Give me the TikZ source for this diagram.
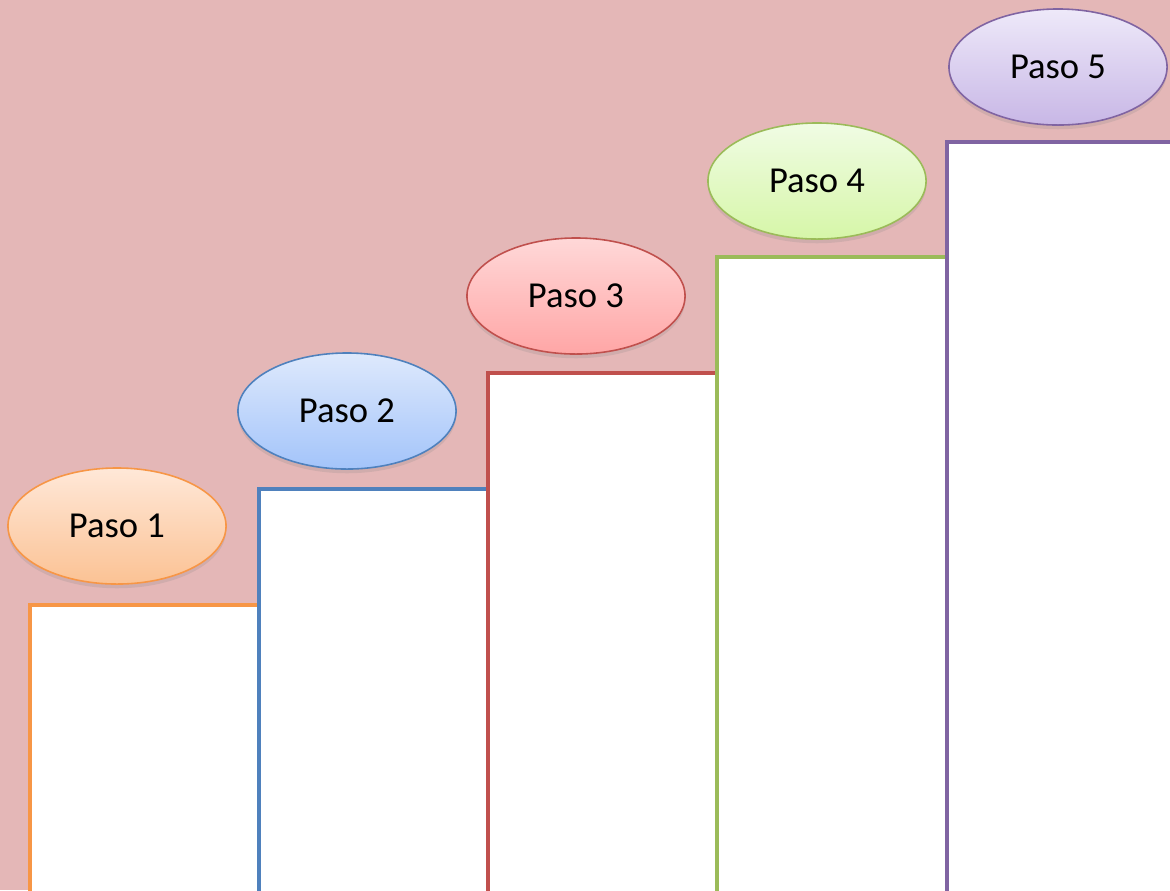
\documentclass[tikz,border=0pt]{standalone}
\usepackage{fontspec}
\setmainfont{Carlito}
\usetikzlibrary{shapes.geometric,shadows}
\definecolor{fondo}{HTML}{E4B7B7}
\definecolor{naranja}{HTML}{F79646}
\definecolor{azul}{HTML}{4F81BD}
\definecolor{rojo}{HTML}{C0504D}
\definecolor{verde}{HTML}{9BBB59}
\definecolor{morado}{HTML}{8064A2}
\tikzset{
  escalon/.style={draw=#1, line width=0.9pt, fill=white},
  paso/.style={ellipse, draw=#1, line width=0.45pt, minimum width=2.18cm,
    minimum height=1.16cm, inner sep=0pt,
    drop shadow={opacity=0.2, shadow xshift=0pt, shadow yshift=-1.2pt},
    font=\fontsize{10.4}{12}\selectfont},
}
\begin{document}
\begin{tikzpicture}[x=0.01cm, y=-0.01cm]
  \fill[fondo] (0,0) rectangle (1170,890);
  \clip (0,0) rectangle (1170,890);
  % escalones
  \foreach \xa/\ya/\xb/\c in {30/605/259/naranja, 259/489/488/azul,
      488/373/717/rojo, 717/257/947/verde, 947/142/1200/morado}
    \draw[escalon=\c] (\xa,900) rectangle (\xb,\ya);
  % pasos
  \node[paso=naranja, top color={rgb,255:red,255;green,232;blue,216}, bottom color={rgb,255:red,251;green,194;blue,148}] (p1) at (117,526) {Paso 1};
  \node[paso=azul, top color={rgb,255:red,222;green,233;blue,252}, bottom color={rgb,255:red,163;green,196;blue,250}] (p2) at (347,411) {Paso 2};
  \node[paso=rojo, top color={rgb,255:red,255;green,216;blue,216}, bottom color={rgb,255:red,255;green,166;blue,166}] (p3) at (576,296) {Paso 3};
  \node[paso=verde, top color={rgb,255:red,240;green,252;blue,228}, bottom color={rgb,255:red,214;green,246;blue,168}] (p4) at (817,181) {Paso 4};
  \node[paso=morado, top color={rgb,255:red,238;green,233;blue,249}, bottom color={rgb,255:red,200;green,183;blue,230}] (p5) at (1058,67) {Paso 5};
\end{tikzpicture}
\end{document}
